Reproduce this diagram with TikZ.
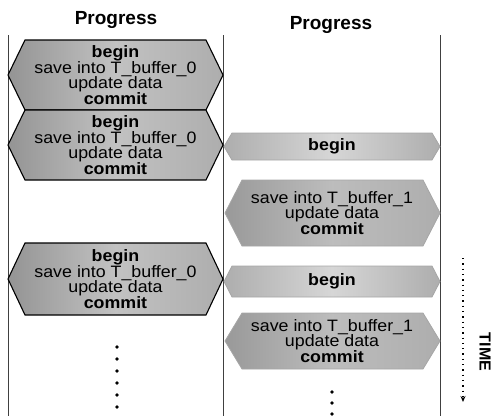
\documentclass[tikz,border=0pt]{standalone}
\usepackage{fontspec}
\setmainfont{Liberation Sans}
\newfontfamily\boxfont[FakeStretch=1.08]{Liberation Sans}
\usetikzlibrary{arrows.meta}

\tikzset{
  lane/.style={black!75, line width=0.8pt},
  title/.style={font=\fontsize{19}{19}\selectfont\bfseries},
  oldhex/.style={draw=black, line width=1.1pt, left color=black!42, right color=black!32, middle color=black!24},
  newhex/.style={draw=black!35, line width=0.8pt, left color=black!40, right color=black!32, middle color=black!26},
  beginbar/.style={draw=black!35, line width=0.8pt, left color=black!32, right color=black!32, middle color=black!16},
  steps/.style={font=\boxfont\fontsize{16.5}{15.5}\selectfont, align=center, inner sep=0pt},
}

\begin{document}
\begin{tikzpicture}[x=1pt,y=-1pt]
\useasboundingbox (0,0) rectangle (492,416);

% the two transactions
\draw[lane] (8,35) -- (8,416);
\draw[lane] (223,35) -- (223,416);
\draw[lane] (440,35) -- (440,416);
\node[title] (prog1) at (116,20) {Progress};
\node[title] (prog2) at (331,25) {Progress};

% left column: whole transaction each time
\shadedraw[oldhex] (8,75) -- (25,40) -- (206,40) -- (223,75) -- (206,110) -- (25,110) -- cycle;
\node[steps] (t1) at (115.5,75) {\textbf{begin}\\save into T\_buffer\_0\\update data\\\textbf{commit}};
\shadedraw[oldhex] (8,145) -- (25,110) -- (206,110) -- (223,145) -- (206,180) -- (25,180) -- cycle;
\node[steps] (t2) at (115.5,145) {\textbf{begin}\\save into T\_buffer\_0\\update data\\\textbf{commit}};
\shadedraw[oldhex] (8,279) -- (25,243) -- (206,243) -- (223,279) -- (206,315) -- (25,315) -- cycle;
\node[steps] (t3) at (115.5,279) {\textbf{begin}\\save into T\_buffer\_0\\update data\\\textbf{commit}};

% right column: begin waits, then the rest
\shadedraw[beginbar] (224,146.5) -- (232,133) -- (432,133) -- (440,146.5) -- (432,160) -- (232,160) -- cycle;
\node[steps] (b1) at (332,146.5) {\textbf{begin}};
\shadedraw[newhex] (225,213) -- (242,180) -- (423,180) -- (440,213) -- (423,246) -- (242,246) -- cycle;
\node[steps] (s1) at (332,213) {save into T\_buffer\_1\\update data\\\textbf{commit}};
\shadedraw[beginbar] (224,281.5) -- (232,266) -- (432,266) -- (440,281.5) -- (432,297) -- (232,297) -- cycle;
\node[steps] (b2) at (332,281.5) {\textbf{begin}};
\shadedraw[newhex] (225,341) -- (242,313) -- (423,313) -- (440,341) -- (423,369) -- (242,369) -- cycle;
\node[steps] (s2) at (332,341) {save into T\_buffer\_1\\update data\\\textbf{commit}};

% and so on
\foreach \y in {347,359,371,383,395,407}
  \fill (117,\y) circle (1.8);
\foreach \y in {392,403,414}
  \fill (332,\y) circle (1.8);

% time axis
\coordinate (tstart) at (463,258);
\coordinate (tend) at (463,402);
\draw[line width=1.3pt, dash pattern=on 1.3pt off 4pt, -{Stealth[length=6pt,width=5pt]}] (tstart) -- (tend);
\node[rotate=-90, font=\fontsize{16}{16}\selectfont\bfseries] (time) at (485,352) {TIME};
\end{tikzpicture}
\end{document}
